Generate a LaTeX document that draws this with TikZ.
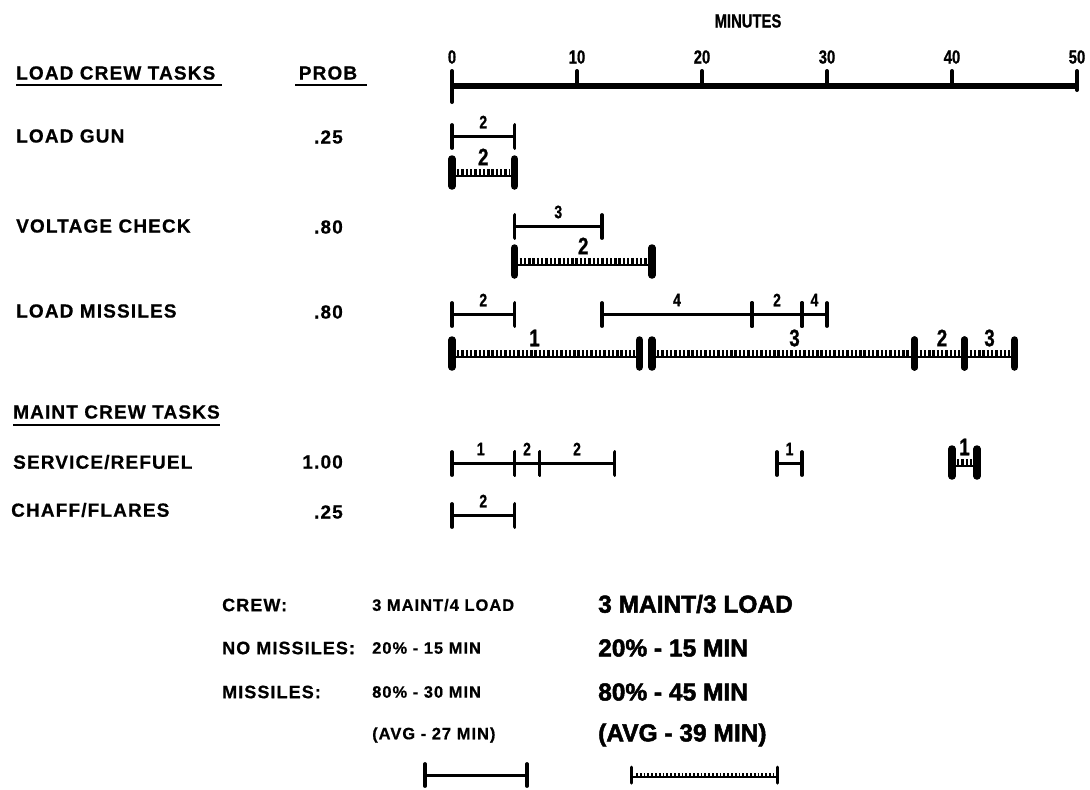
\documentclass[tikz,border=0pt]{standalone}
\usepackage{fontspec}
\setmainfont{Liberation Sans}
\newfontfamily\lblf[LetterSpace=6,FakeBold=0.6]{Liberation Sans}
\newfontfamily\condf[FakeStretch=0.78,FakeBold=0.8]{Liberation Sans}
\newfontfamily\heavyf[FakeBold=2]{Liberation Sans}
\newcommand\TB[5]{%
  \draw[tline] ({452+12.5*#1},#3) -- ({452+12.5*#2},#3);
  \draw[ttick] ({452+12.5*#1},{#3-11}) -- ({452+12.5*#1},{#3+12});
  \draw[ttick] ({452+12.5*#2},{#3-11}) -- ({452+12.5*#2},{#3+12});
  \node[smalllbl] at ({452+12.5*#5},{#3-14}) {#4};}
\newcommand\DB[5]{%
  \draw[dbase] ({452+12.5*#1},{#3+3}) -- ({452+12.5*#2},{#3+3});
  \draw[dteeth] ({452+12.5*#1+5},#3) -- ({452+12.5*#2-5},#3);
  \draw[dcap] ({452+12.5*#1},{#3-14}) -- ({452+12.5*#1},{#3+13});
  \draw[dcap] ({452+12.5*#2},{#3-14}) -- ({452+12.5*#2},{#3+13});
  \node[biglbl] at ({452+12.5*#5},{#3-16}) {#4};}
\begin{document}
\begin{tikzpicture}[x=1pt,y=-1pt,
  axisline/.style={line width=6.5pt},
  axtick/.style={line width=4pt,line cap=round},
  tline/.style={line width=3pt},
  ttick/.style={line width=3.8pt,line cap=round},
  dcap/.style={line width=7.5pt,line cap=round},
  dteeth/.style={line width=8pt,dash pattern=on 2.4pt off 1.9pt},
  dbase/.style={line width=2.5pt},
  uline/.style={line width=2.2pt},
  smalllbl/.style={font=\condf\bfseries\fontsize{18}{18}\selectfont,inner sep=0pt},
  biglbl/.style={font=\condf\bfseries\fontsize{24}{24}\selectfont,inner sep=0pt},
  ticklbl/.style={font=\condf\bfseries\fontsize{19}{19}\selectfont,inner sep=0pt},
  tasklbl/.style={font=\lblf\bfseries\fontsize{19}{19}\selectfont,anchor=west,inner sep=0pt},
  problbl/.style={font=\lblf\bfseries\fontsize{19}{19}\selectfont,anchor=east,inner sep=0pt},
  leglbl/.style={font=\lblf\bfseries\fontsize{18}{18}\selectfont,anchor=west,inner sep=0pt},
  legmid/.style={font=\lblf\bfseries\fontsize{16.5}{16.5}\selectfont,anchor=west,inner sep=0pt},
  heavylbl/.style={font=\heavyf\bfseries\fontsize{24.5}{24.5}\selectfont,anchor=west,inner sep=0pt}]
\useasboundingbox (0,0) rectangle (1090,790);
\fill[white] (0,0) rectangle (1090,790);
% axis
\node[ticklbl] (minutes) at (748,21) {MINUTES};
\draw[axisline] (452,86) -- (1077,86);
\draw[axtick] (452,71) -- (452,102);
\foreach \t in {10,20,30,40} \draw[axtick] ({452+12.5*\t},71) -- ({452+12.5*\t},86);
\draw[axtick] (1077,71) -- (1077,90);
\foreach \t in {0,10,20,30,40,50} \node[ticklbl] (t\t) at ({452+12.5*\t},57) {\t};
% headers
\node[tasklbl] (hload) at (16,73) {LOAD CREW TASKS};
\draw[uline] (16,85) -- (222,85);
\node[tasklbl,anchor=center] (hprob) at (328,73) {PROB};
\draw[uline] (295,85) -- (367,85);
\node[tasklbl] (gun) at (16,136) {LOAD GUN};
\node[problbl] (pgun) at (343,137) {.25};
\node[tasklbl] (volt) at (16,226) {VOLTAGE CHECK};
\node[problbl] (pvolt) at (343,227) {.80};
\node[tasklbl] (miss) at (16,311) {LOAD MISSILES};
\node[problbl] (pmiss) at (343,312) {.80};
\node[tasklbl] (hmaint) at (13,412) {MAINT CREW TASKS};
\draw[uline] (13,425) -- (220,425);
\node[tasklbl] (serv) at (13,462) {SERVICE/REFUEL};
\node[problbl] (pserv) at (343,462) {1.00};
\node[tasklbl] (chaff) at (11,510) {CHAFF/FLARES};
\node[problbl] (pchaff) at (343,512) {.25};
% load gun
\TB{0}{5}{136}{2}{2.5}
\DB{0}{5}{173}{2}{2.5}
% voltage check
\TB{5}{12}{226}{3}{8.5}
\DB{5}{16}{262}{2}{10.5}
% load missiles
\TB{0}{5}{314}{2}{2.5}
\TB{12}{24}{314}{4}{18}
\TB{24}{28}{314}{2}{26}
\TB{28}{30}{314}{4}{29}
\DB{0}{15}{354}{1}{6.6}
\DB{16}{37}{354}{3}{27.4}
\DB{37}{41}{354}{2}{39.2}
\DB{41}{45}{354}{3}{43}
% service / refuel
\TB{0}{5}{463}{1}{2.3}
\TB{5}{7}{463}{2}{6}
\TB{7}{13}{463}{2}{10}
\TB{26}{28}{463}{1}{27}
\DB{40}{42}{463}{1}{41}
% chaff
\TB{0}{5}{515}{2}{2.5}
% legend
\node[leglbl] (crew) at (222,605) {CREW:};
\node[legmid] (crewa) at (372,605) {3 MAINT/4 LOAD};
\node[heavylbl] (crewb) at (598,604) {3 MAINT/3 LOAD};
\node[leglbl] (nom) at (222,648) {NO MISSILES:};
\node[legmid] (noma) at (372,648) {20\% - 15 MIN};
\node[heavylbl] (nomb) at (598,648) {20\% - 15 MIN};
\node[leglbl] (mis) at (222,692) {MISSILES:};
\node[legmid] (misa) at (372,692) {80\% - 30 MIN};
\node[heavylbl] (misb) at (598,692) {80\% - 45 MIN};
\node[legmid] (avga) at (372,735) {(AVG - 27 MIN)};
\node[heavylbl] (avgb) at (598,735) {(AVG - 39 MIN)};
\draw[tline] (425,775) -- (527,775);
\draw[ttick] (425,764) -- (425,786);
\draw[ttick] (527,764) -- (527,786);
\draw[line width=4pt,dash pattern=on 1.8pt off 2pt] (636,775) -- (773,775);
\draw[line width=1.4pt] (630,777) -- (778,777);
\draw[line width=3pt,line cap=round] (631,767) -- (631,783);
\draw[line width=3pt,line cap=round] (777,767) -- (777,783);
\end{tikzpicture}
\end{document}
